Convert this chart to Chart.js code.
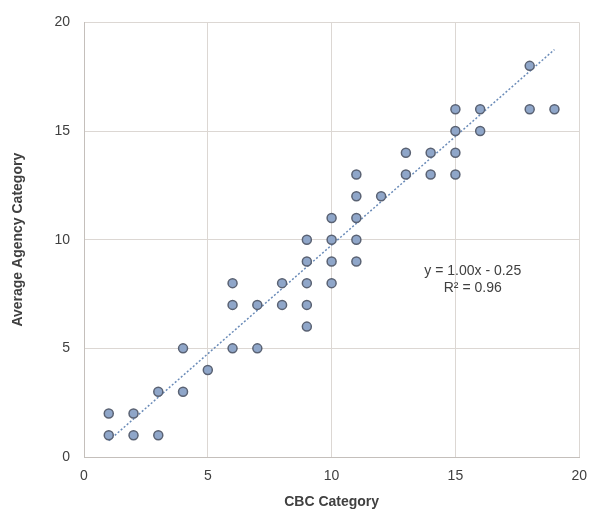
<!DOCTYPE html>
<html>
<head>
<meta charset="utf-8">
<script src="https://cdn.jsdelivr.net/npm/chart.js@4.4.0/dist/chart.umd.min.js"></script>
<style>
    html, body { margin: 0; padding: 0; background: #fff; }
    #wrap { width: 598px; height: 515px; }
</style>
</head>
<body>
<div id="wrap"><canvas id="myChart" width="598" height="515"></canvas></div>
<script>
// CBC category vs average agency category
const cbcCategory = [1, 1, 2, 2, 3, 3, 4, 4, 5, 6, 6, 6, 7, 7, 8, 8, 9, 9, 9, 9, 9, 10, 10, 10, 10,
    11, 11, 11, 11, 11, 12, 13, 13, 14, 14, 15, 15, 15, 15, 16, 16, 18, 18, 19];
const agencyCategory = [1, 2, 1, 2, 1, 3, 3, 5, 4, 5, 7, 8, 5, 7, 7, 8, 6, 7, 8, 9, 10, 8, 9, 10, 11,
    9, 10, 11, 12, 13, 12, 13, 14, 13, 14, 13, 14, 15, 16, 15, 16, 16, 18, 16];

// trendline as printed on the chart
const trendSlope = 1.00;
const trendIntercept = -0.25;
const trendRange = [1, 19];
const trendLabels = ['y = 1.00x - 0.25', 'R\u00B2 = 0.96'];

const points = cbcCategory.map((x, i) => ({ x: x, y: agencyCategory[i] }));
const trend = trendRange.map(x => ({ x: x, y: trendSlope * x + trendIntercept }));

const textColor = '#404040';
const gridColor = '#dcd7d3';
const fontFamily = '"Liberation Sans", Arial, sans-serif';

// writes the trendline equation next to the line
const equationLabel = {
    id: 'equationLabel',
    afterDatasetsDraw(chart) {
        const ctx = chart.ctx;
        const xs = chart.scales.x, ys = chart.scales.y;
        const px = xs.getPixelForValue(15.7);
        const py = ys.getPixelForValue(8.55);
        ctx.save();
        ctx.font = '14px ' + fontFamily;
        ctx.fillStyle = textColor;
        ctx.textAlign = 'center';
        ctx.textBaseline = 'middle';
        trendLabels.forEach((t, i) => ctx.fillText(t, px, py + i * 17));
        ctx.restore();
    }
};

const ctx = document.getElementById('myChart').getContext('2d');
new Chart(ctx, {
    type: 'scatter',
    data: {
        datasets: [{
            label: 'data',
            data: points,
            backgroundColor: '#8fa6c9',
            borderColor: '#5a6273',
            borderWidth: 1.5,
            pointRadius: 4.5,
            pointHoverRadius: 4.5
        }, {
            label: 'trend',
            type: 'line',
            data: trend,
            showLine: true,
            borderColor: '#6a8bb8',
            borderWidth: 1.5,
            borderDash: [2, 2],
            pointRadius: 0,
            fill: false
        }]
    },
    options: {
        responsive: false,
        animation: false,
        layout: { padding: { top: 19, right: 10, left: 0, bottom: 0 } },
        plugins: {
            legend: { display: false },
            tooltip: { enabled: false }
        },
        scales: {
            x: {
                type: 'linear',
                min: 0,
                max: 20,
                ticks: {
                    stepSize: 5,
                    color: textColor,
                    padding: 11,
                    font: { family: fontFamily, size: 14 }
                },
                grid: { color: gridColor, drawTicks: false },
                border: { color: '#c4bfbb' },
                title: {
                    display: true,
                    text: 'CBC Category',
                    color: textColor,
                    padding: { top: 0, bottom: 4 },
                    font: { family: fontFamily, size: 14, weight: 'bold' }
                },
                afterFit(scale) { scale.height = 58; }
            },
            y: {
                type: 'linear',
                min: 0,
                max: 20,
                ticks: {
                    stepSize: 5,
                    color: textColor,
                    padding: 14,
                    font: { family: fontFamily, size: 14 }
                },
                grid: { color: gridColor, drawTicks: false },
                border: { color: '#c4bfbb' },
                title: {
                    display: true,
                    text: 'Average Agency Category',
                    color: textColor,
                    padding: { top: 10, bottom: 0 },
                    font: { family: fontFamily, size: 14, weight: 'bold' }
                },
                afterFit(scale) { scale.width = 84; }
            }
        }
    },
    plugins: [equationLabel]
});
</script>
</body>
</html>
